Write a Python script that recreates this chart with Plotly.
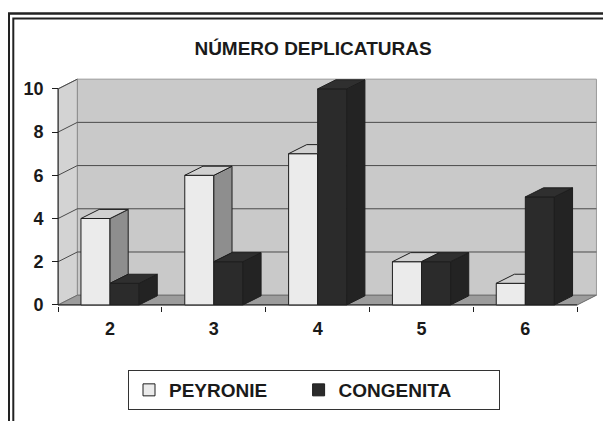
import plotly.graph_objects as go

# ---------------- data ----------------
categories = ["2", "3", "4", "5", "6"]
series_names = ["PEYRONIE", "CONGENITA"]
peyronie = [4, 6, 7, 2, 1]
congenita = [1, 2, 10, 2, 5]
y_ticks = [0, 2, 4, 6, 8, 10]
title_text = "NÚMERO DEPLICATURAS"

# ---------------- geometry / style ----------------
OFF = 8                      # page body margin of the html page
W, H = 611 - OFF, 421 - OFF
ML, MR, MT, MB = 47, 13, 69, 115
XR = [-0.53, 4.70]
YR = [-0.05, 10.55]
BW = 0.28                 # bar width (category units)
DX, DY = 0.185, 0.45      # wall depth offset (data units)
BDX, BDY = 0.175, 0.42    # bar depth offset (data units)

FONT = "Liberation Sans, Arial, sans-serif"
TXT = "#1a1a1a"
EDGE = "#1e1e1e"
P_FRONT, P_TOP, P_SIDE = "#ebebeb", "#d0d0d0", "#8e8e8e"
C_FRONT, C_TOP, C_SIDE = "#2b2b2b", "#2f2f2f", "#232323"
WALL_BACK, WALL_LEFT, FLOOR = "#c9c9c9", "#d3d3d3", "#9c9c9c"
GRID = "#4a4a4a"
LEGEND_PAD = [5, 8]       # trailing non-breaking spaces per legend entry (spacing)

n = len(categories)
xs = list(range(n))
x_left = -0.5
x_right = n - 0.5

fig = go.Figure()

# front faces of the bars (library bars)
fig.add_trace(go.Bar(x=xs, y=peyronie, name=series_names[0] + "\u00a0" * LEGEND_PAD[0],
                     offset=-BW, width=BW,
                     marker=dict(color=P_FRONT, line=dict(color=EDGE, width=1)),
                     hoverinfo="skip"))
fig.add_trace(go.Bar(x=xs, y=congenita, name=series_names[1] + "\u00a0" * LEGEND_PAD[1],
                     offset=0, width=BW,
                     marker=dict(color=C_FRONT, line=dict(color=EDGE, width=1)),
                     hoverinfo="skip"))


def face(px, py, color):
    fig.add_trace(go.Scatter(x=px + [px[0]], y=py + [py[0]], mode="lines", fill="toself",
                             fillcolor=color, line=dict(color=EDGE, width=1),
                             showlegend=False, hoverinfo="skip"))


# 3-D side and top faces, derived from the values
for i in xs:
    p, c = peyronie[i], congenita[i]
    L, R = i - BW, i
    if p > c:
        face([R, R, R + BDX, R + BDX], [c, p, p + BDY, c + BDY], P_SIDE)
    if c > p:
        face([L, R, R, L + BDX], [p, p, p + BDY, p + BDY], P_TOP)
    else:
        face([L, R, R + BDX, L + BDX], [p, p, p + BDY, p + BDY], P_TOP)
    L2, R2 = i, i + BW
    face([R2, R2, R2 + BDX, R2 + BDX], [0, c, c + BDY, BDY], C_SIDE)
    face([L2, R2, R2 + BDX, L2 + BDX], [c, c, c + BDY, c + BDY], C_TOP)

# ---------------- walls, floor, gridlines (below traces) ----------------
shapes = []


def path(pts):
    return "M " + " L ".join(f"{a},{b}" for a, b in pts) + " Z"


top = y_ticks[-1]
shapes.append(dict(type="path", xref="x", yref="y", layer="below",
                   path=path([(x_left + DX, DY), (x_right + DX, DY),
                              (x_right + DX, top + DY), (x_left + DX, top + DY)]),
                   fillcolor=WALL_BACK, line=dict(color="#9a9a9a", width=1)))
shapes.append(dict(type="path", xref="x", yref="y", layer="below",
                   path=path([(x_left, 0), (x_left, top), (x_left + DX, top + DY), (x_left + DX, DY)]),
                   fillcolor=WALL_LEFT, line=dict(color="#8a8a8a", width=1)))
shapes.append(dict(type="path", xref="x", yref="y", layer="below",
                   path=path([(x_left, 0), (x_right, 0), (x_right + DX, DY), (x_left + DX, DY)]),
                   fillcolor=FLOOR, line=dict(color="#6a6a6a", width=1)))
for v in y_ticks[1:]:
    if v < top:
        shapes.append(dict(type="line", xref="x", yref="y", layer="below",
                           x0=x_left + DX, x1=x_right + DX, y0=v + DY, y1=v + DY,
                           line=dict(color=GRID, width=1)))
    shapes.append(dict(type="line", xref="x", yref="y", layer="below",
                       x0=x_left, x1=x_left + DX, y0=v, y1=v + DY,
                       line=dict(color=GRID, width=1)))
shapes.append(dict(type="line", xref="x", yref="y", layer="below",
                   x0=x_left, x1=x_left, y0=0, y1=top, line=dict(color=EDGE, width=1)))
shapes.append(dict(type="line", xref="x", yref="y", layer="below",
                   x0=x_left, x1=x_right, y0=0, y1=0, line=dict(color=EDGE, width=1)))

# ---------------- double outer frame ----------------
PW, PH = W - ML - MR, H - MB - MT


def fx(px):   # screen pixel x -> paper
    return (px - OFF - ML) / PW


def fy(py):   # screen pixel y -> paper
    return (H - MB - (py - OFF)) / PH


for (l, t, r, w) in [(8.7, 13.5, 613.5, 2.6), (13.3, 18.5, 608.7, 2.0)]:
    shapes.append(dict(type="rect", xref="paper", yref="paper",
                       x0=fx(l), x1=fx(r), y0=fy(440), y1=fy(t),
                       line=dict(color="#222222", width=w), fillcolor="rgba(0,0,0,0)"))

ypos = (x_left - XR[0]) / (XR[1] - XR[0])
tickfont = dict(family=FONT, size=18, color=TXT, weight="bold")

fig.update_layout(
    width=W, height=H,
    margin=dict(l=ML, r=MR, t=MT, b=MB, pad=0, autoexpand=False),
    paper_bgcolor="white", plot_bgcolor="white",
    barmode="overlay",
    title=dict(text=title_text, x=(313 - OFF) / W, xanchor="center",
               y=1 - (48.5 - OFF) / H, yanchor="middle",
               font=dict(family=FONT, size=19, color=TXT, weight="bold")),
    xaxis=dict(range=XR, tickmode="array", tickvals=xs, ticktext=categories, ticks="",
               showgrid=False, zeroline=False, showline=False, tickfont=tickfont,
               ticklabelstandoff=10, fixedrange=True,
               minor=dict(tickmode="array", tickvals=[x_left + k for k in range(n + 1)],
                          ticks="outside", ticklen=5, tickcolor=EDGE, tickwidth=1, showgrid=False)),
    yaxis=dict(range=YR, tickmode="array", tickvals=y_ticks, ticks="outside", ticklen=6,
               tickcolor=EDGE, tickwidth=1, showgrid=False, zeroline=False, showline=False,
               anchor="free", position=ypos, tickfont=tickfont, ticklabelstandoff=5,
               fixedrange=True),
    legend=dict(orientation="h", x=fx(128), y=fy(370), xanchor="left", yanchor="top",
                bordercolor="#333333", borderwidth=1, bgcolor="white",
                font=dict(family=FONT, size=19, color=TXT, weight="bold"),
                traceorder="normal"),
    shapes=shapes,
    showlegend=True,
)

fig.write_html("out.html")
